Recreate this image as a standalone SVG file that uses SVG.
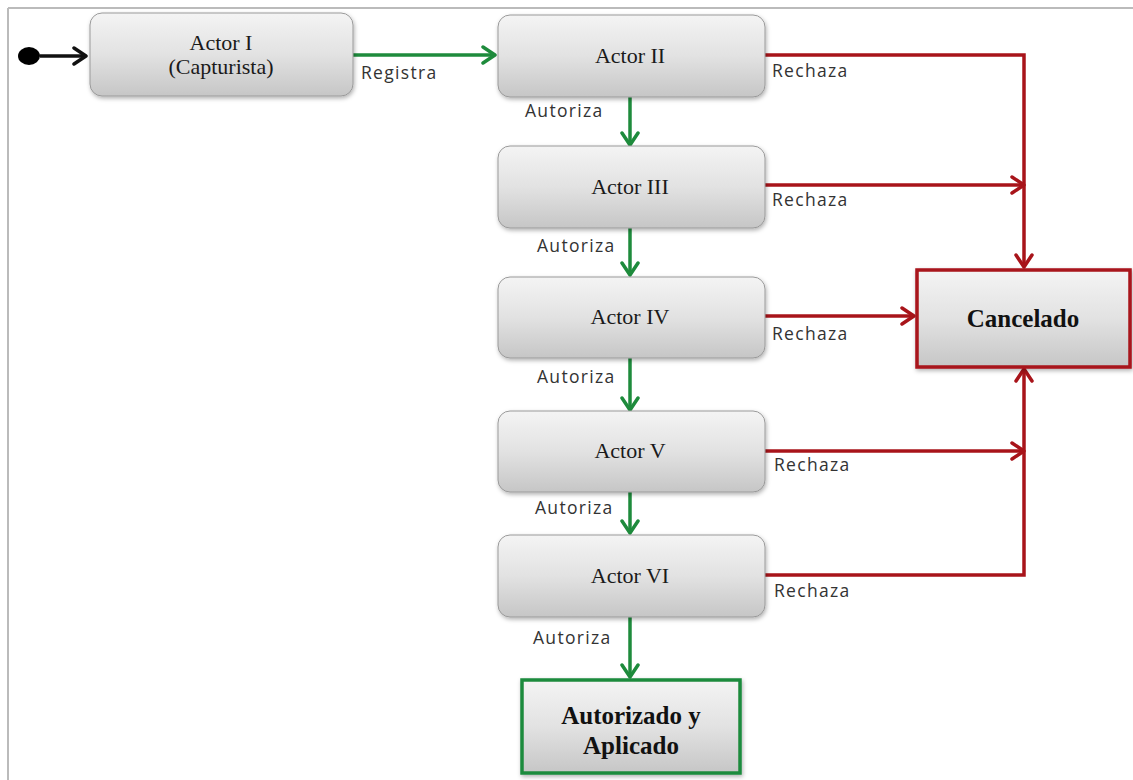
<svg xmlns="http://www.w3.org/2000/svg" width="1133" height="780" viewBox="0 0 1133 780">
<defs>
<linearGradient id="g" x1="0" y1="0" x2="0" y2="1">
<stop offset="0" stop-color="#f4f4f4"/>
<stop offset="0.5" stop-color="#e2e2e2"/>
<stop offset="1" stop-color="#c6c6c6"/>
</linearGradient>
<filter id="sh" x="-10%" y="-10%" width="125%" height="130%">
<feDropShadow dx="1" dy="2" stdDeviation="2" flood-color="#000" flood-opacity="0.3"/>
</filter>
<marker id="aG" viewBox="0 0 16 20" refX="14" refY="10" markerWidth="16" markerHeight="20" markerUnits="userSpaceOnUse" orient="auto">
<path d="M2,2 L14,10 L2,18" fill="none" stroke="#1e8b3c" stroke-width="3.5" stroke-linecap="round" stroke-linejoin="round"/>
</marker>
<marker id="aR" viewBox="0 0 16 20" refX="14" refY="10" markerWidth="16" markerHeight="20" markerUnits="userSpaceOnUse" orient="auto">
<path d="M2,2 L14,10 L2,18" fill="none" stroke="#a8141a" stroke-width="3.5" stroke-linecap="round" stroke-linejoin="round"/>
</marker>
<marker id="aK" viewBox="0 0 16 20" refX="14" refY="10" markerWidth="16" markerHeight="20" markerUnits="userSpaceOnUse" orient="auto">
<path d="M2,2 L14,10 L2,18" fill="none" stroke="#111" stroke-width="3.5" stroke-linecap="round" stroke-linejoin="round"/>
</marker>
</defs>
<style>
.box{fill:url(#g);stroke:#9a9a9a;stroke-width:1;filter:url(#sh)}
.end{fill:url(#g);stroke-width:3.5;filter:url(#sh)}
.nt{font-family:"Liberation Serif",serif;font-size:22px;fill:#1a1a1a;text-anchor:middle}
.bt{font-family:"Liberation Serif",serif;font-size:25px;font-weight:bold;fill:#111;text-anchor:middle}
.lb{font-family:"Open Sans",sans-serif;font-size:17.5px;fill:#333;letter-spacing:1.3px}
.g{stroke:#1e8b3c;stroke-width:3.5;fill:none;marker-end:url(#aG)}
.r{stroke:#a8141a;stroke-width:3.5;fill:none;marker-end:url(#aR)}
</style>
<rect width="1133" height="780" fill="#fff"/>
<line x1="8" y1="8" x2="1133" y2="8" stroke="#bbb" stroke-width="2"/>
<line x1="8" y1="8" x2="8" y2="780" stroke="#bbb" stroke-width="2"/>

<g id="connectors">
<line x1="40" y1="56" x2="86" y2="56" stroke="#111" stroke-width="3.5" marker-end="url(#aK)"/>
<line class="g" x1="353" y1="55" x2="495" y2="55"/>
<polyline class="r" points="765,55 1024,55 1024,267"/>
<line class="r" x1="765" y1="185" x2="1024" y2="185"/>
<line class="r" x1="765" y1="316" x2="914" y2="316"/>
<line class="r" x1="765" y1="451" x2="1024" y2="451"/>
<polyline class="r" points="765,575 1024,575 1024,369"/>
<line class="g" x1="630" y1="97" x2="630" y2="145"/>
<line class="g" x1="630" y1="227" x2="630" y2="275"/>
<line class="g" x1="630" y1="358" x2="630" y2="410"/>
<line class="g" x1="630" y1="492" x2="630" y2="533"/>
<line class="g" x1="630" y1="617" x2="630" y2="677"/>
<text class="lb" x="361" y="79">Registra</text>
<text class="lb" x="772" y="77">Rechaza</text>
<text class="lb" x="772" y="206">Rechaza</text>
<text class="lb" x="772" y="340">Rechaza</text>
<text class="lb" x="774" y="471">Rechaza</text>
<text class="lb" x="774" y="597">Rechaza</text>
<text class="lb" x="525" y="117">Autoriza</text>
<text class="lb" x="537" y="252">Autoriza</text>
<text class="lb" x="537" y="383">Autoriza</text>
<text class="lb" x="535" y="514">Autoriza</text>
<text class="lb" x="533" y="644">Autoriza</text>
</g>

<g id="start"><ellipse cx="29" cy="56" rx="11" ry="9" fill="#000"/></g>

<g id="actor1">
<rect class="box" x="90" y="13" width="263" height="83" rx="12"/>
<text class="nt" x="221" y="50">Actor I</text>
<text class="nt" x="221" y="74">(Capturista)</text>
</g>
<g id="actor2">
<rect class="box" x="498" y="15" width="267" height="82" rx="12"/>
<text class="nt" x="630" y="63">Actor II</text>
</g>
<g id="actor3">
<rect class="box" x="498" y="146" width="267" height="82" rx="12"/>
<text class="nt" x="630" y="194">Actor III</text>
</g>
<g id="actor4">
<rect class="box" x="498" y="277" width="267" height="81" rx="12"/>
<text class="nt" x="630" y="324">Actor IV</text>
</g>
<g id="actor5">
<rect class="box" x="498" y="411" width="267" height="81" rx="12"/>
<text class="nt" x="630" y="458">Actor V</text>
</g>
<g id="actor6">
<rect class="box" x="498" y="535" width="267" height="82" rx="12"/>
<text class="nt" x="630" y="583">Actor VI</text>
</g>
<g id="cancelado">
<rect class="end" x="917" y="270" width="213" height="97" stroke="#a8141a"/>
<text class="bt" x="1023" y="327">Cancelado</text>
</g>
<g id="autorizado">
<rect class="end" x="522" y="680" width="218" height="93" stroke="#1e8b3c"/>
<text class="bt" x="631" y="724">Autorizado y</text>
<text class="bt" x="631" y="754">Aplicado</text>
</g>
</svg>
